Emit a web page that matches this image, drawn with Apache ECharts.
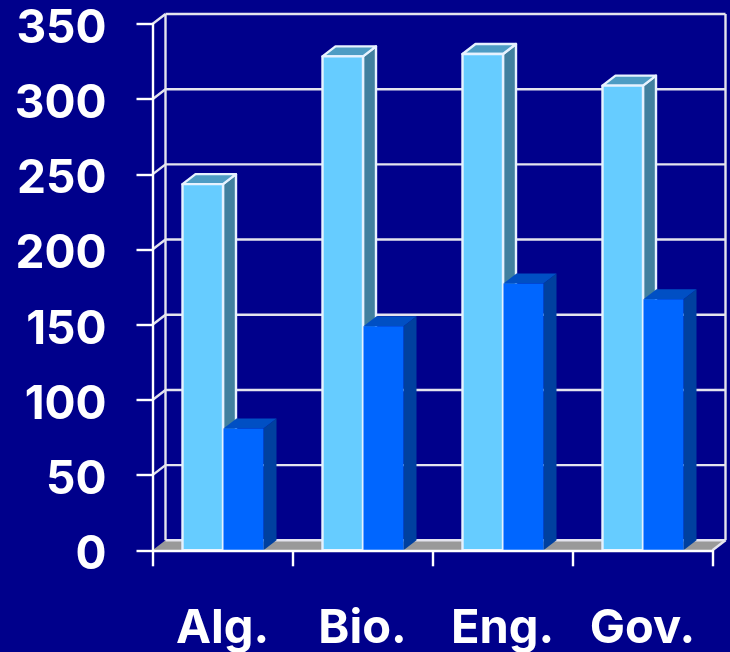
<!DOCTYPE html>
<html><head><meta charset="utf-8">
<style>html,body{margin:0;padding:0;background:#00008b}#c{width:730px;height:652px}</style>
<script src="https://cdn.jsdelivr.net/npm/echarts@6/dist/echarts.min.js"></script>
</head><body><div id="c"></div>
<script>
const categories = ['Alg.', 'Bio.', 'Eng.', 'Gov.'];
const lightValues = [243.5, 328.5, 330, 309];
const darkValues = [81, 149, 177.5, 167];
const yTicks = [0, 50, 100, 150, 200, 250, 300, 350];

const DX = 13, DY = -10;
const BAR_W = 40.5;
const GRID_COLOR = '#e4e4ee';

function poly(points, fill, stroke, lw) {
  return { type: 'polygon', shape: { points }, style: { fill: fill, stroke: stroke || null, lineWidth: lw || 0, lineJoin: 'round' } };
}
function line(x1, y1, x2, y2, color, w) {
  return { type: 'line', shape: { x1, y1, x2, y2 }, style: { stroke: color, lineWidth: w } };
}
function renderFrame(params, api) {
  const cs = params.coordSys;
  const l = cs.x, r = cs.x + cs.width, b = cs.y + cs.height, t = cs.y;
  return { type: 'group', children: [
    poly([[l, b], [r, b], [r + DX, b + DY], [l + DX, b + DY]], '#999999'),
    line(l + DX, b + DY, r + DX, b + DY, GRID_COLOR, 2.4),
    line(l + DX, t + DY, l + DX, b + DY, GRID_COLOR, 2.4),
    line(r + DX, t + DY, r + DX, b + DY, GRID_COLOR, 2.4),
    line(r, b, r + DX, b + DY, GRID_COLOR, 2.4)
  ] };
}
function renderGrid(params, api) {
  const cs = params.coordSys;
  const y = api.coord([0, api.value(0)])[1];
  const l = cs.x, r = cs.x + cs.width;
  return { type: 'group', children: [
    line(l, y, l + DX, y + DY, GRID_COLOR, 2.4),
    line(l + DX, y + DY, r + DX, y + DY, GRID_COLOR, 2.4)
  ] };
}
function makeBar(offsetSign, front, top, side, stroke) {
  return function (params, api) {
    const p = api.coord([api.value(0), api.value(1)]);
    const base = api.coord([api.value(0), 0]);
    const x0 = offsetSign < 0 ? p[0] - BAR_W + 0.5 : p[0] + 1;
    const x1 = x0 + BAR_W - (offsetSign < 0 ? 0 : 0.5);
    const yT = p[1], yB = base[1];
    const lw = stroke ? 2.4 : 0;
    return { type: 'group', children: [
      poly([[x1, yB], [x1 + DX, yB + DY], [x1 + DX, yT + DY], [x1, yT]], side, stroke, lw),
      poly([[x0, yT], [x0 + DX, yT + DY], [x1 + DX, yT + DY], [x1, yT]], top, stroke, lw),
      poly([[x0, yT], [x1, yT], [x1, yB], [x0, yB]], front, stroke, lw)
    ] };
  };
}

const chart = echarts.init(document.getElementById('c'), null, { renderer: 'canvas' });
chart.setOption({
  animation: false,
  backgroundColor: '#00008b',
  grid: { left: 152.5, right: 17.5, top: 24, bottom: 101.7, containLabel: false, outerBoundsMode: 'none' },
  xAxis: {
    type: 'category', data: categories, z: 10,
    axisLine: { show: true, lineStyle: { color: '#ffffff', width: 2.4 } },
    axisTick: { show: true, alignWithLabel: false, length: 16, lineStyle: { color: '#ffffff', width: 2.4 } },
    axisLabel: { color: '#ffffff', fontFamily: 'Inter', fontWeight: 700, fontSize: 47, margin: 55, interval: 0 }
  },
  yAxis: {
    type: 'value', min: 0, max: 350, interval: 50, z: 10,
    axisLine: { show: true, lineStyle: { color: '#ffffff', width: 2.4 } },
    axisTick: { show: true, length: 16, lineStyle: { color: '#ffffff', width: 2.4 } },
    axisLabel: { color: '#ffffff', fontFamily: 'Inter', fontWeight: 700, fontSize: 46, margin: 46, verticalAlign: 'top', lineHeight: 10 },
    splitLine: { show: false }
  },
  series: [
    { type: 'custom', name: 'frame', z: 1, silent: true, clip: false, renderItem: renderFrame, data: [[0]] },
    { type: 'custom', name: 'grid', z: 2, silent: true, clip: false, renderItem: renderGrid, data: yTicks.slice(1).map(v => [v]), encode: { y: 0 } },
    { type: 'custom', name: 'Light', z: 3, clip: false,
      renderItem: makeBar(-1, '#66ccff', '#4d9cc4', '#41809f', '#e6f2ff'),
      data: lightValues.map((v, i) => [i, v]), encode: { x: 0, y: 1 } },
    { type: 'custom', name: 'Dark', z: 4, clip: false,
      renderItem: makeBar(1, '#0066ff', '#004fc4', '#00409f', null),
      data: darkValues.map((v, i) => [i, v]), encode: { x: 0, y: 1 } }
  ]
});
</script></body></html>
